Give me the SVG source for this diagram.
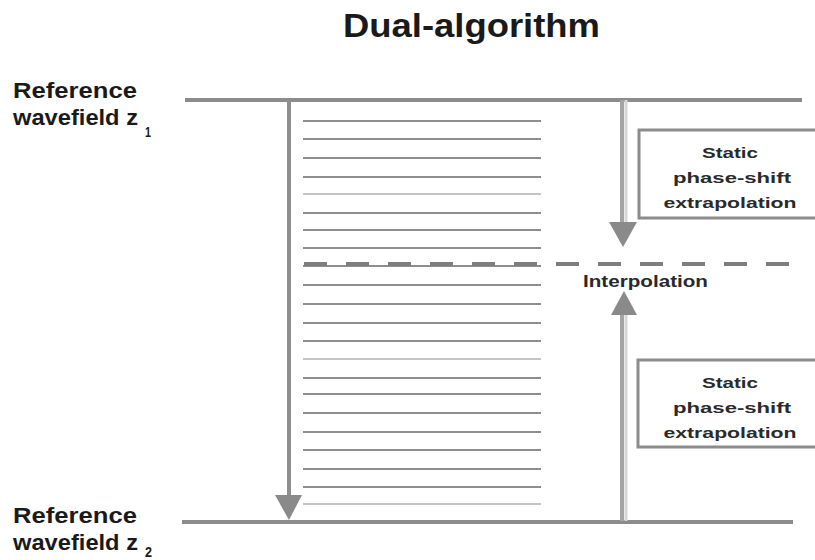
<svg xmlns="http://www.w3.org/2000/svg" width="815" height="560" viewBox="0 0 815 560">
  <style>
    text { font-family: "Liberation Sans", Arial, sans-serif; fill: #1a1a1a; }
    .title { font-size: 34px; font-weight: bold; }
    .label { font-size: 22px; font-weight: bold; }
    .sub { font-size: 14px; font-weight: bold; }
    .box-text { font-size: 15px; font-weight: bold; text-anchor: middle; fill: #2a2a2a; }
    .interp { font-size: 17px; font-weight: bold; fill: #2a2a2a; }
    .ref-line { stroke: #8c8c8c; stroke-width: 4; fill: none; }
    .step { stroke: #8e8e8e; stroke-width: 2; }
    .step-light { stroke: #c4c4c4; stroke-width: 2; }
    .dash { stroke: #7e7e7e; stroke-width: 4; stroke-dasharray: 23 19; fill: none; }
    .box { fill: #ffffff; stroke: #8c8c8c; stroke-width: 3; }
    .head { fill: #8a8a8a; }
  </style>

  <!-- Title -->
  <text class="title" x="343" y="37" textLength="257" lengthAdjust="spacingAndGlyphs">Dual-algorithm</text>

  <!-- Reference level z1 -->
  <g id="ref-z1">
    <line class="ref-line" x1="185" y1="100" x2="802" y2="100"/>
    <text class="label" x="13" y="98" textLength="124" lengthAdjust="spacingAndGlyphs">Reference</text>
    <text class="label" x="13" y="125" textLength="125" lengthAdjust="spacingAndGlyphs">wavefield z</text>
    <text class="sub" x="145" y="137" textLength="6" lengthAdjust="spacingAndGlyphs">1</text>
  </g>

  <!-- Reference level z2 -->
  <g id="ref-z2">
    <line class="ref-line" x1="182" y1="522" x2="793" y2="522"/>
    <text class="label" x="13" y="523" textLength="124" lengthAdjust="spacingAndGlyphs">Reference</text>
    <text class="label" x="13" y="550" textLength="125" lengthAdjust="spacingAndGlyphs">wavefield z</text>
    <text class="sub" x="145" y="557" textLength="7" lengthAdjust="spacingAndGlyphs">2</text>
  </g>

  <!-- Fine depth steps -->
  <g id="depth-steps">
    <line class="step" x1="303" y1="121" x2="541" y2="121"/>
    <line class="step" x1="303" y1="139" x2="541" y2="139"/>
    <line class="step" x1="303" y1="158" x2="541" y2="158"/>
    <line class="step" x1="303" y1="177" x2="541" y2="177"/>
    <line class="step-light" x1="303" y1="194" x2="541" y2="194"/>
    <line class="step" x1="303" y1="213" x2="541" y2="213"/>
    <line class="step" x1="303" y1="230" x2="541" y2="230"/>
    <line class="step" x1="303" y1="248" x2="541" y2="248"/>
    <line class="step" x1="303" y1="266" x2="541" y2="266"/>
    <line class="step" x1="303" y1="285" x2="541" y2="285"/>
    <line class="step" x1="303" y1="304" x2="541" y2="304"/>
    <line class="step" x1="303" y1="323" x2="541" y2="323"/>
    <line class="step" x1="303" y1="341" x2="541" y2="341"/>
    <line class="step-light" x1="303" y1="359" x2="541" y2="359"/>
    <line class="step" x1="303" y1="378" x2="541" y2="378"/>
    <line class="step" x1="303" y1="394" x2="541" y2="394"/>
    <line class="step" x1="303" y1="413" x2="541" y2="413"/>
    <line class="step" x1="303" y1="432" x2="541" y2="432"/>
    <line class="step" x1="303" y1="450" x2="541" y2="450"/>
    <line class="step" x1="303" y1="469" x2="541" y2="469"/>
    <line class="step" x1="303" y1="487" x2="541" y2="487"/>
    <line class="step-light" x1="303" y1="504" x2="541" y2="504"/>
  </g>

  <!-- Interpolation level -->
  <g id="interpolation">
    <line class="dash" x1="304" y1="264" x2="790" y2="264"/>
    <text class="interp" x="583" y="287" textLength="125" lengthAdjust="spacingAndGlyphs">Interpolation</text>
  </g>

  <!-- Static phase-shift boxes -->
  <g id="box-upper">
    <rect class="box" x="639" y="130" width="185" height="88"/>
    <text class="box-text" x="730" y="158" textLength="56" lengthAdjust="spacingAndGlyphs">Static</text>
    <text class="box-text" x="732" y="183" textLength="118" lengthAdjust="spacingAndGlyphs">phase-shift</text>
    <text class="box-text" x="730" y="208" textLength="133" lengthAdjust="spacingAndGlyphs">extrapolation</text>
  </g>
  <g id="box-lower">
    <rect class="box" x="638" y="360" width="186" height="87"/>
    <text class="box-text" x="730" y="388" textLength="56" lengthAdjust="spacingAndGlyphs">Static</text>
    <text class="box-text" x="732" y="413" textLength="118" lengthAdjust="spacingAndGlyphs">phase-shift</text>
    <text class="box-text" x="730" y="438" textLength="133" lengthAdjust="spacingAndGlyphs">extrapolation</text>
  </g>

  <!-- Connectors -->
  <g id="connectors">
    <!-- full-step extrapolation z1 to z2 -->
    <line x1="289" y1="100" x2="289" y2="498" stroke="#8e8e8e" stroke-width="4"/>
    <polygon class="head" points="275,495 302,495 289,520"/>
    <!-- downward from z1 to interpolation level -->
    <line x1="622" y1="100" x2="622" y2="224" stroke="#a4a4a4" stroke-width="4"/>
    <line x1="626" y1="100" x2="626" y2="224" stroke="#d6d6d6" stroke-width="3"/>
    <polygon class="head" points="609,222 637,222 623,247"/>
    <!-- upward from z2 to interpolation level -->
    <line x1="622" y1="313" x2="622" y2="521" stroke="#a4a4a4" stroke-width="4"/>
    <line x1="626" y1="313" x2="626" y2="521" stroke="#d6d6d6" stroke-width="3"/>
    <polygon class="head" points="611,315 637,315 624,291"/>
  </g>
</svg>
